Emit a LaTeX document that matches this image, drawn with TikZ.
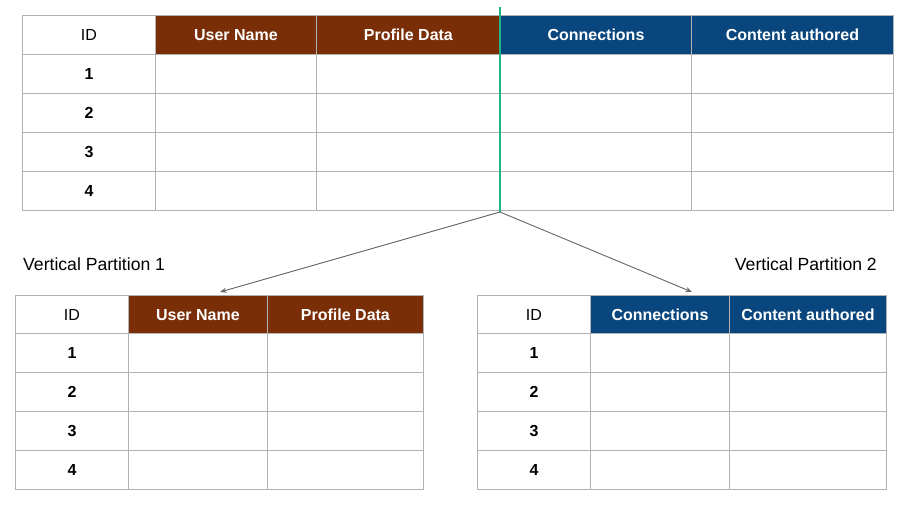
\documentclass[tikz,border=0pt]{standalone}
\usepackage{fontspec}
\setmainfont{Liberation Sans}
\usepackage{xcolor}
\usetikzlibrary{arrows.meta,positioning}
\definecolor{headbrown}{HTML}{7A2E08}
\definecolor{headblue}{HTML}{0A467E}
\definecolor{splitgreen}{HTML}{20B383}
\definecolor{gridgray}{HTML}{B2B2B2}
\definecolor{linkgray}{HTML}{666666}

\tikzset{
  cell/.style={draw=gridgray,line width=0.9pt,anchor=north west,inner sep=0pt,
    minimum height=39pt,text height=11.5pt,text depth=0pt,
    font=\fontsize{16}{18}\selectfont},
  head/.style={cell,text=white,font=\fontsize{16}{18}\selectfont\bfseries},
  idnum/.style={font=\fontsize{16}{18}\selectfont\bfseries},
  link/.style={draw=linkgray,line width=0.9pt,-{Stealth[length=6.5pt,width=5pt]}},
  partlabel/.style={inner sep=0pt,font=\fontsize{17.6}{20}\selectfont}
}

\begin{document}
\begin{tikzpicture}[x=1pt,y=-1pt]
  \useasboundingbox (0,0) rectangle (900,506);

  % source table
  \node[cell,minimum width=133pt] (t-id) at (22,15) {ID};
  \foreach \x/\w/\n/\t/\c in {155/161/user/User Name/headbrown,
      316/184/prof/Profile Data/headbrown,
      500/191/conn/Connections/headblue,
      691/202/cont/Content authored/headblue}
    \node[head,fill=\c,minimum width=\w pt] (t-\n) at (\x,15) {\t};
  \foreach \y [count=\i] in {54,93,132,171} {
    \node[cell,idnum,minimum width=133pt] (t-\i-id) at (22,\y) {\i};
    \foreach \x/\w/\n in {155/161/user,316/184/prof,500/191/conn,691/202/cont}
      \node[cell,minimum width=\w pt] (t-\i-\n) at (\x,\y) {};
  }

  % split line
  \coordinate (split-top) at (500,7);
  \coordinate (split-bot) at (500,212);
  \draw[splitgreen,line width=2.4pt] (split-top) -- (split-bot);

  % partition 1
  \node[cell,minimum width=113pt,minimum height=38pt] (a-id) at (15,295) {ID};
  \foreach \x/\w/\n/\t in {128/139/user/User Name,267/156/prof/Profile Data}
    \node[head,fill=headbrown,minimum width=\w pt,minimum height=38pt] (a-\n) at (\x,295) {\t};
  \foreach \y [count=\i] in {333,372,411,450} {
    \node[cell,idnum,minimum width=113pt] (a-\i-id) at (15,\y) {\i};
    \foreach \x/\w/\n in {128/139/user,267/156/prof}
      \node[cell,minimum width=\w pt] (a-\i-\n) at (\x,\y) {};
  }

  % partition 2
  \node[cell,minimum width=113pt,minimum height=38pt] (b-id) at (477,295) {ID};
  \foreach \x/\w/\n/\t in {590/139/conn/Connections,729/157/cont/Content authored}
    \node[head,fill=headblue,minimum width=\w pt,minimum height=38pt] (b-\n) at (\x,295) {\t};
  \foreach \y [count=\i] in {333,372,411,450} {
    \node[cell,idnum,minimum width=113pt] (b-\i-id) at (477,\y) {\i};
    \foreach \x/\w/\n in {590/139/conn,729/157/cont}
      \node[cell,minimum width=\w pt] (b-\i-\n) at (\x,\y) {};
  }

  \node[partlabel,anchor=west] (a-label) at (23,264) {Vertical Partition 1};
  \node[partlabel,anchor=east] (b-label) at (877,264) {Vertical Partition 2};

  \coordinate (a-tip) at (220,292);
  \coordinate (b-tip) at (692,292);
  \draw[link] (split-bot) -- (a-tip);
  \draw[link] (split-bot) -- (b-tip);
\end{tikzpicture}
\end{document}
